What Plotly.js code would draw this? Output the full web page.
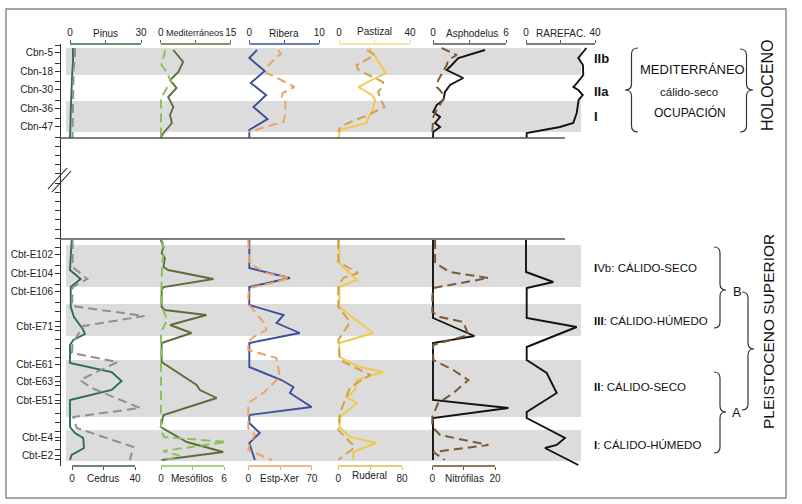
<!DOCTYPE html>
<html><head><meta charset="utf-8">
<script src="https://cdn.plot.ly/plotly-3.0.1.min.js"></script>
<style>html,body{margin:0;padding:0;background:#fff}#chart{width:802px;height:504px}</style>
</head><body><div id="chart"></div>
<script>
// ---------------- DATA (depth positions in diagram units; values in %) ----------------
// Sample labels on the depth axis
const topSamples = ['Cbn-5','Cbn-18','Cbn-30','Cbn-36','Cbn-47'];
const topSampleDepth = [52, 71, 89, 108, 126];
const botSamples = ['Cbt-E102','Cbt-E104','Cbt-E106','Cbt-E71','Cbt-E61','Cbt-E63','Cbt-E51','Cbt-E4','Cbt-E2'];
const botSampleDepth = [254, 273, 291, 326, 364, 381, 400, 437, 455];

// Zones (grey bands)
const bandStart = [48, 101, 245, 304, 360, 430];
const bandEnd   = [75, 132, 287, 336, 417, 461];

// HOLOCENO (top section)
const pinusTopD  = [48, 60, 75, 88, 100, 112, 125, 138];
const pinusTop   = [1.2, 1.3, 0.9, 0.6, 0.4, 0.3, 0.2, 0];
const cedrusTopD = [48, 58, 70, 85, 100, 115, 130, 138];
const cedrusTop  = [2.0, 1.8, 1.0, 0.8, 0.6, 0.6, 0.4, 0.3];
const medTopD    = [50, 62, 72, 80, 88, 97, 107, 115, 123, 133, 138];
const medTop     = [2.7, 4.8, 3.8, 2.0, 3.4, 1.6, 2.7, 2.0, 2.4, 0.6, 0];
const mesoTopD   = [50, 62, 65, 72, 83, 88, 98, 107, 120, 138];
const mesoTop    = [0.4, 0.1, 0.05, 0.55, 1.0, 0.55, 0, 0, 0, 0];
const riberaTopD = [50, 58, 71, 83, 95, 107, 119, 130, 138];
const riberaTop  = [1.1, 0, 2.2, 0.2, 2.4, 0.6, 2.6, 0, 0];
const estpTopD   = [50, 54, 57, 67, 73, 77, 87, 93, 97, 100, 113, 122, 126, 132];
const estpTop    = [33, 36, 31, 21, 20, 30, 51, 38, 37, 41, 41, 39, 22, 0];
const pastTopD   = [48, 60, 73, 80, 87, 95, 100, 110, 118, 123, 126, 130, 138];
const pastTop    = [17, 21.5, 26.5, 18.5, 10.9, 18.5, 20.3, 19, 16.5, 15.5, 9, 0.5, 0];
const rudTopD    = [50, 55, 62, 65, 70, 75, 82, 86, 92, 97, 107, 110, 115, 120, 127, 132];
const rudTop     = [36, 46, 30, 23, 25, 38, 56, 56, 50, 52, 58, 50, 38, 21, 2, 0];
const asphTopD   = [50, 58, 65, 70, 78, 85, 92, 100, 105, 112, 117, 123, 127, 132, 138];
const asphTop    = [4.27, 2.08, 1.54, 1.12, 2.49, 1.4, 0.99, 0.85, 0.3, 0.02, 0.58, 0.16, 0.58, 0.02, 0];
const nitroTopD  = [48, 53, 55, 60, 65, 80, 87, 90, 97, 102, 107, 117, 127, 132];
const nitroTop   = [3.0, 6.7, 7.8, 5.1, 4.6, 1.9, 1.4, 2.4, 4.0, 3.0, 1.9, 0.3, 0, 0];
const rareTopD   = [48, 58, 65, 75, 83, 87, 90, 95, 100, 107, 113, 123, 127, 133, 138];
const rareTop    = [35, 30.3, 33, 33.2, 29.6, 27.5, 30.3, 32.9, 30.5, 29.8, 29.4, 27.4, 19.7, 0.4, 0.4];

// PLEISTOCENO SUPERIOR (bottom section)
const pinusBotD  = [240, 262, 270, 279, 287, 307, 317, 329, 334, 340, 345, 363, 372, 381, 390, 400, 427, 433, 438, 448, 455, 460];
const pinusBot   = [0.7, 0.3, 0, 4.5, 0.3, 0.3, 1.7, 5.4, 6.3, 1.4, 0, 0, 17.6, 21.8, 17.6, 0, 0, 2.1, 5.6, 5.9, 0.7, 0];
const cedrusBotD = [240, 267, 279, 287, 306, 316, 326, 343, 353, 362, 380, 388, 408, 417, 428, 447, 460];
const cedrusBot  = [0.4, 0.4, 9.7, 0.4, 0, 46, 7.2, 0.4, 0, 29, 5.1, 12.5, 43.2, 0.8, 3.0, 38.9, 36.8];
const medBotD    = [240, 247, 253, 258, 267, 270, 279, 287, 290, 307, 310, 315, 325, 333, 343, 362, 385, 390, 398, 415, 427, 442, 452, 460];
const medBot     = [0, 0.6, 0.2, 0.9, 0.6, 1.6, 11.3, 0.6, 0.2, 0.2, 0.9, 9.8, 2.0, 6.6, 0.2, 0.2, 7.7, 8.4, 12.0, 0.6, 0, 5.6, 13.4, 0.2];
const mesoBotD   = [240, 250, 265, 305, 320, 332, 430, 437, 442, 451, 456, 460];
const mesoBot    = [0.1, 0.3, 0.1, 0, 0.6, 0, 0, 0.3, 6.2, 0.2, 1.8, 0.5];
const riberaBotD = [240, 268, 278, 287, 305, 315, 323, 333, 343, 367, 380, 387, 393, 407, 415, 423, 433, 443, 460];
const riberaBot  = [0, 0, 5.8, 0, 0, 4.9, 3.9, 7.2, 0, 0, 4.6, 6.3, 5.8, 8.9, 0, 0, 1.5, 0, 0.8];
const estpBotD   = [240, 263, 273, 278, 283, 288, 297, 305, 322, 330, 337, 342, 350, 358, 377, 393, 403, 413, 428, 435, 443, 450, 460];
const estpBot    = [0, 1, 20, 46, 26, 1, 0, 1, 16.5, 20, 5.5, 0, 0, 31, 35, 16.5, 0, 0, 0, 7.4, 1.9, 0, 26];
const pastBotD   = [240, 263, 270, 280, 287, 307, 313, 333, 343, 357, 367, 372, 380, 390, 397, 403, 417, 427, 437, 443, 452, 460];
const pastBot    = [0, 0.2, 4.3, 10, 0.2, 0.2, 4.3, 19.3, 0.2, 0.2, 11.8, 25, 10, 9, 4.3, 10, 0.6, 0.2, 6.2, 21, 8, 8];
const rudBotD    = [240, 262, 273, 278, 287, 307, 322, 340, 360, 375, 387, 397, 413, 430, 447, 460];
const rudBot     = [0, 0, 25, 6, 0, 0, 15, 0, 2, 40, 15, 10, 2, 0, 21, 0];
const asphBotD   = [240, 318, 336, 343, 400, 408, 418, 460];
const asphBot    = [0, 0, 3.4, 0, 0, 6.2, 0, 0];
const nitroBotD  = [240, 263, 272, 278, 288, 297, 312, 317, 322, 335, 345, 360, 370, 380, 393, 403, 417, 427, 435, 445, 452, 460];
const nitroBot   = [0.9, 0.9, 5.6, 17.9, 0.3, 0, 0, 2.5, 9.9, 11.5, 0.3, 0.3, 6.7, 11.5, 6.7, 1.9, 0, 0, 2.5, 17.9, 0.3, 4];
const rareBotD   = [240, 272, 282, 288, 318, 327, 347, 360, 373, 393, 412, 418, 438, 445, 448, 465];
const rareBot    = [0, 0, 15.8, 0.4, 0.4, 29.4, 0.4, 0.4, 12, 17.8, 0.4, 0.4, 22.6, 17.8, 11, 30.3];

// ---------------- LAYOUT HELPERS ----------------
const W = 802, H = 504, ML = 60, MR = 2, MT = 44, MB = 38;
const PW = W - ML - MR, PH = H - MT - MB;
const xp = px => (px - ML) / PW;
const yp = py => (MT + PH - py) / PH;
const FONT = 'Liberation Sans, Arial, Helvetica, sans-serif';

// axis definitions: pixel of 0, pixel of max, max value
const axes = [
  {id:'x',   name:'Pinus',        side:'top',    p0:70,    p1:141,   max:30, color:'#2d6e4e', tx:105, ty:33, fs:10},
  {id:'x2',  name:'Cedrus',       side:'bottom', p0:72,    p1:135,   max:40, color:'#3f5a4c', tx:103, ty:478, fs:10},
  {id:'x3',  name:'Mediterráneos',side:'top',    p0:160.7, p1:230.7, max:15, color:'#636b3d', tx:195, ty:33, fs:9},
  {id:'x4',  name:'Mesófilos',    side:'bottom', p0:161,   p1:224,   max:6,  color:'#8cc05a', tx:192, ty:479, fs:10},
  {id:'x5',  name:'Ribera',       side:'top',    p0:249.3, p1:319.3, max:10, color:'#3d4f9c', tx:284, ty:33, fs:10},
  {id:'x6',  name:'Estp-Xer',     side:'bottom', p0:248.3, p1:311.7, max:70, color:'#e9a466', tx:280, ty:479, fs:10},
  {id:'x7',  name:'Pastizal',     side:'top',    p0:339,   p1:410,   max:40, color:'#efdc85', tx:374, ty:31, fs:10},
  {id:'x8',  name:'Ruderal',      side:'bottom', p0:338.3, p1:402,   max:80, color:'#e0b84e', tx:369, ty:476, fs:10},
  {id:'x9',  name:'Asphodelus',   side:'top',    p0:433,   p1:506,   max:6,  color:'#555555', tx:472, ty:33, fs:10},
  {id:'x10', name:'Nitrófilas',   side:'bottom', p0:432.3, p1:495,   max:20, color:'#6b4a30', tx:464, ty:478, fs:10},
  {id:'x11', name:'RAREFAC.',     side:'top',    p0:526,   p1:595,   max:40, color:'#555555', tx:561, ty:33, fs:10}
];

const series = [
  {ax:0,  dTop:pinusTopD,  vTop:pinusTop,  dBot:pinusBotD,  vBot:pinusBot,  color:'#2d6e4e', dash:'solid'},
  {ax:1,  dTop:cedrusTopD, vTop:cedrusTop, dBot:cedrusBotD, vBot:cedrusBot, color:'#8f8f8f', dash:'9px,5px'},
  {ax:2,  dTop:medTopD,    vTop:medTop,    dBot:medBotD,    vBot:medBot,    color:'#636b3d', dash:'solid'},
  {ax:3,  dTop:mesoTopD,   vTop:mesoTop,   dBot:mesoBotD,   vBot:mesoBot,   color:'#8cc05a', dash:'9px,5px'},
  {ax:4,  dTop:riberaTopD, vTop:riberaTop, dBot:riberaBotD, vBot:riberaBot, color:'#3d4f9c', dash:'solid'},
  {ax:5,  dTop:estpTopD,   vTop:estpTop,   dBot:estpBotD,   vBot:estpBot,   color:'#e9a466', dash:'9px,5px'},
  {ax:6,  dTop:pastTopD,   vTop:pastTop,   dBot:pastBotD,   vBot:pastBot,   color:'#f0c84a', dash:'solid'},
  {ax:7,  dTop:rudTopD,    vTop:rudTop,    dBot:rudBotD,    vBot:rudBot,    color:'#d4a04c', dash:'9px,5px'},
  {ax:8,  dTop:asphTopD,   vTop:asphTop,   dBot:asphBotD,   vBot:asphBot,   color:'#111111', dash:'solid'},
  {ax:9,  dTop:nitroTopD,  vTop:nitroTop,  dBot:nitroBotD,  vBot:nitroBot,  color:'#7b5a3a', dash:'9px,5px'},
  {ax:10, dTop:rareTopD,   vTop:rareTop,   dBot:rareBotD,   vBot:rareBot,   color:'#111111', dash:'solid'}
];

const traces = [];
series.forEach(s => {
  const a = axes[s.ax];
  [[s.dTop, s.vTop], [s.dBot, s.vBot]].forEach(([d, v]) => {
    traces.push({
      type:'scatter', mode:'lines', x:v, y:d,
      xaxis:a.id, yaxis:'y',
      line:{color:s.color, width:s.dash === 'solid' ? 1.9 : 2, dash:s.dash},
      hoverinfo:'skip', showlegend:false
    });
  });
});

const layout = {
  width:W, height:H, margin:{l:ML, r:MR, t:MT, b:MB, pad:0},
  paper_bgcolor:'#ffffff', plot_bgcolor:'rgba(0,0,0,0)',
  font:{family:FONT, size:10, color:'#222'},
  showlegend:false, hovermode:false,
  shapes:[], annotations:[]
};

// depth axis
const tv = [], tt = [];
topSamples.forEach((s,i)=>{tv.push(topSampleDepth[i]); tt.push(s);});
botSamples.forEach((s,i)=>{tv.push(botSampleDepth[i]); tt.push(s);});
const labelled = tv.slice();
for (let d = 45; d <= 466; d += 9.2) {
  if (!labelled.some(q => Math.abs(q - d) < 3.5)) { tv.push(d); tt.push(''); }
}
layout.yaxis = {
  range:[MT + PH, MT], anchor:'free', position:0, domain:[0,1],
  showgrid:false, zeroline:false, showline:true, linecolor:'#333', linewidth:1.2,
  ticks:'outside', ticklen:5, tickwidth:1, tickcolor:'#333',
  tickmode:'array', tickvals:tv, ticktext:tt,
  tickfont:{size:10, color:'#222', family:FONT}, automargin:false, fixedrange:true
};

// value axes
axes.forEach(a => {
  const s = (a.p1 - a.p0) / a.max;
  const lo = -0.1 * a.max, hi = 1.35 * a.max;
  const key = a.id === 'x' ? 'xaxis' : 'xaxis' + a.id.slice(1);
  layout[key] = {
    domain:[xp(a.p0 + lo * s), xp(a.p0 + hi * s)], range:[lo, hi],
    anchor:'y', side:a.side,
    showgrid:false, zeroline:false, showline:false,
    ticks:'outside', ticklen:3, tickwidth:1, tickcolor:a.color,
    tickmode:'array', tickvals:[0, a.max/2, a.max], ticktext:['0','',String(a.max)],
    tickfont:{size:10, color:'#222', family:FONT}, automargin:false, fixedrange:true
  };
  const yy = a.side === 'top' ? yp(MT) : yp(MT + PH);
  layout.shapes.push({type:'line', xref:'paper', yref:'paper', x0:xp(a.p0), x1:xp(a.p1), y0:yy, y1:yy,
    line:{color:a.color, width:1.3}, layer:'above'});
  layout.annotations.push({xref:'paper', yref:'paper', x:xp(a.tx), y:yp(a.ty), text:a.name,
    showarrow:false, xanchor:'center', yanchor:'middle', font:{size:a.fs, color:'#222', family:FONT}});
});

// bands
bandStart.forEach((b,i) => {
  layout.shapes.push({type:'rect', xref:'paper', yref:'y', x0:xp(66), x1:xp(581), y0:b, y1:bandEnd[i],
    fillcolor:'#dcdcdc', line:{width:0}, layer:'below'});
});

// section separators
[138, 239].forEach(py => layout.shapes.push({type:'line', xref:'paper', yref:'paper',
  x0:xp(60), x1:xp(565), y0:yp(py), y1:yp(py), line:{color:'#555', width:1.5}, layer:'above'}));

// outer frame
layout.shapes.push({type:'rect', xref:'paper', yref:'paper', x0:xp(6), x1:xp(786), y0:yp(9), y1:yp(498),
  line:{color:'#8a8a8a', width:1.5}, fillcolor:'rgba(0,0,0,0)', layer:'below'});

// axis break marks
[[48,189,67,168],[52,192,71,171]].forEach(([a,b,c,d]) => layout.shapes.push({type:'line', xref:'paper', yref:'paper',
  x0:xp(a), y0:yp(b), x1:xp(c), y1:yp(d), line:{color:'#222', width:1.1}, layer:'above'}));

// braces
function brace(x0, y1, y2, ym, w) {
  const xm = x0 + w / 2, xq = x0 + w, r = 6;
  const P = (x, y) => xp(x).toFixed(5) + ',' + yp(y).toFixed(5);
  return 'M' + P(x0, y1) + ' Q' + P(xm, y1) + ' ' + P(xm, y1 + r) + ' L' + P(xm, ym - r) +
    ' Q' + P(xm, ym) + ' ' + P(xq, ym) + ' Q' + P(xm, ym) + ' ' + P(xm, ym + r) +
    ' L' + P(xm, y2 - r) + ' Q' + P(xm, y2) + ' ' + P(x0, y2);
}
[[638, 48, 132, 90, -13], [740, 49, 132, 90, 13], [714, 247, 328, 290, 12], [714, 372, 453, 412, 12], [742, 292, 410, 349, 12]]
  .forEach(b => layout.shapes.push({type:'path', xref:'paper', yref:'paper', path:brace(...b),
    line:{color:'#333', width:1.2}, layer:'above'}));

// right-hand texts
function txt(t, x, y, size, anchor, angle) {
  layout.annotations.push({xref:'paper', yref:'paper', x:xp(x), y:yp(y), text:t, showarrow:false,
    xanchor:anchor || 'left', yanchor:'middle', textangle:angle || 0,
    font:{size:size, color:'#111', family:FONT}});
}
txt('<b>IIb</b>', 592, 58, 13);
txt('<b>IIa</b>', 592, 92, 13);
txt('<b>I</b>', 592, 117, 13);
txt('MEDITERRÁNEO', 692, 70, 13, 'center');
txt('cálido-seco', 689, 92, 11.5, 'center');
txt('OCUPACIÓN', 690, 113, 12, 'center');
txt('HOLOCENO', 768, 85, 16, 'center', -90);
txt('<b>I</b>Vb: CÁLIDO-SECO', 592, 268, 11.5);
txt('<b>III</b>: CÁLIDO-HÚMEDO', 592, 321, 11.5);
txt('<b>II</b>: CÁLIDO-SECO', 592, 387, 11.5);
txt('<b>I</b>: CÁLIDO-HÚMEDO', 592, 445, 11.5);
txt('B', 737, 291, 13, 'center');
txt('A', 736, 412, 13, 'center');
txt('PLEISTOCENO SUPERIOR', 768, 332, 15.5, 'center', -90);

Plotly.newPlot('chart', traces, layout, {staticPlot:true, displayModeBar:false});
</script></body></html>
